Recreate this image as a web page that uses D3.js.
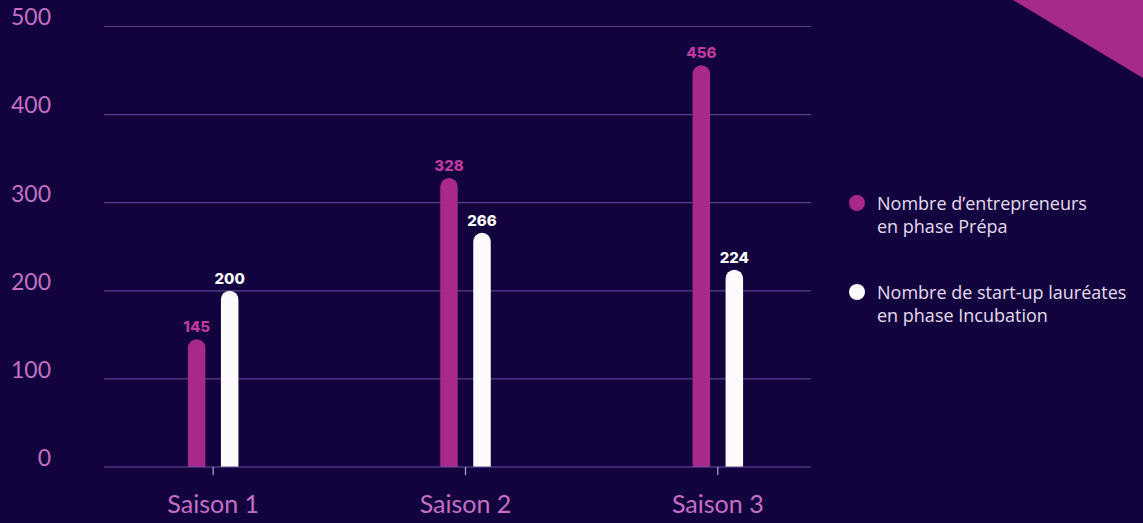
<!DOCTYPE html>
<html><head><meta charset="utf-8">
<script src="https://cdn.jsdelivr.net/npm/d3@7"></script>
<style>html,body{margin:0;padding:0;background:#12033f;overflow:hidden}svg{display:block}</style>
</head><body>
<svg id="c" width="1143" height="523"></svg>
<script>
const categories = ["Saison 1", "Saison 2", "Saison 3"];
const seriesNames = ["Nombre d\u2019entrepreneurs|en phase Prépa", "Nombre de start-up lauréates|en phase Incubation"];
const prepa = [145, 328, 456];
const incubation = [200, 266, 224];
const yTicks = [0, 100, 200, 300, 400, 500];

const W = 1143, H = 523;
const bg = "#12033f", magenta = "#a8288c", white = "#fdfafd", pinkText = "#c56ec4", grid = "#5b3f8e";
const svg = d3.select("#c");
svg.append("rect").attr("width", W).attr("height", H).attr("fill", bg);
svg.append("polygon").attr("points", "1013,0 1143,0 1143,78").attr("fill", "#a52a8a");

const x = d3.scaleBand().domain(categories).range([87, 844]);
const y = d3.scaleLinear().domain([0, 500]).range([467, 26.5]);
const gridX0 = 104, gridX1 = 811;

// grid
svg.append("g").selectAll("line").data(yTicks.filter(d => d > 0)).join("line")
  .attr("x1", gridX0).attr("x2", gridX1).attr("y1", d => y(d)).attr("y2", d => y(d))
  .attr("stroke", grid).attr("stroke-width", 1.2);

// y labels
svg.append("g").selectAll("text").data(yTicks).join("text")
  .attr("x", 51).attr("y", d => y(d) - 7).attr("text-anchor", "end")
  .attr("dominant-baseline", "middle")
  .attr("font-family", "Lato, 'Open Sans', sans-serif").attr("font-weight", 400).attr("font-size", 23)
  .attr("fill", pinkText).text(d => d);

const bw = 17.5, off = 16.5;
function roundTopPath(cx, top, bottom, w) {
  const r = w / 2;
  return `M${cx - r},${bottom} L${cx - r},${top + r} A${r},${r} 0 0 1 ${cx + r},${top + r} L${cx + r},${bottom} Z`;
}
const series = [{vals: prepa, color: magenta, label: "#c13a9f", dx: -off}, {vals: incubation, color: white, label: "#ffffff", dx: off}];
series.forEach(s => {
  const g = svg.append("g");
  g.selectAll("path").data(categories).join("path")
    .attr("d", (c, i) => roundTopPath(x(c) + x.bandwidth() / 2 + s.dx, y(s.vals[i]), y(0), bw))
    .attr("fill", s.color);
  g.selectAll("text").data(categories).join("text")
    .attr("x", (c, i) => x(c) + x.bandwidth() / 2 + s.dx)
    .attr("y", (c, i) => y(s.vals[i]) - 7)
    .attr("text-anchor", "middle")
    .attr("font-family", "Inter, 'Open Sans', sans-serif").attr("font-weight", 800).attr("font-size", 15)
    .attr("fill", s.label).text((c, i) => s.vals[i]);
});

// baseline
svg.append("line").attr("x1", gridX0).attr("x2", gridX1).attr("y1", y(0)).attr("y2", y(0))
  .attr("stroke", "#6a4f9e").attr("stroke-width", 1.2);
// ticks
svg.append("g").selectAll("line").data(categories).join("line")
  .attr("x1", c => x(c) + x.bandwidth() / 2).attr("x2", c => x(c) + x.bandwidth() / 2)
  .attr("y1", y(0)).attr("y2", y(0) + 8).attr("stroke", "#b9a6d8").attr("stroke-width", 1.2);
// x labels
svg.append("g").selectAll("text").data(categories).join("text")
  .attr("x", c => x(c) + x.bandwidth() / 2).attr("y", 513)
  .attr("text-anchor", "middle")
  .attr("font-family", "Lato, 'Open Sans', sans-serif").attr("font-size", 25)
  .attr("fill", pinkText).text(c => c);

// legend
const legY = [203, 292];
const legColors = [magenta, white];
seriesNames.forEach((n, i) => {
  svg.append("circle").attr("cx", 857).attr("cy", legY[i]).attr("r", 8).attr("fill", legColors[i]);
  const t = svg.append("text").attr("x", 877).attr("y", legY[i] + 7)
    .attr("font-family", "'Open Sans', Lato, sans-serif").attr("font-size", 18).attr("fill", "#e6dcf0");
  n.split("|").forEach((line, j) => {
    t.append("tspan").attr("x", 877).attr("dy", j === 0 ? 0 : 23).text(line);
  });
});
</script>
</body></html>
